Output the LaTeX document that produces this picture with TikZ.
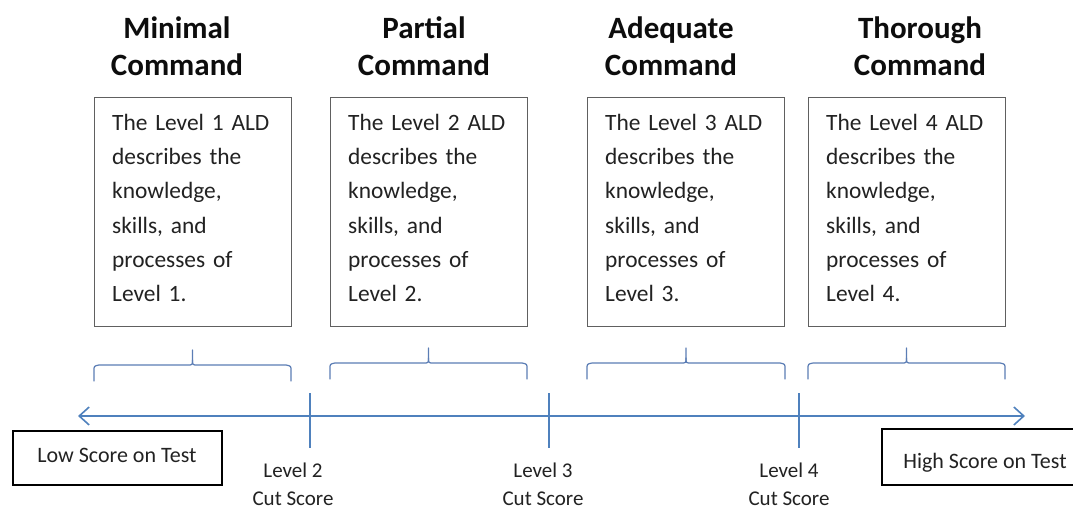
\documentclass[tikz,border=0pt]{standalone}
\usepackage{fontspec}
\setmainfont{Carlito}
\usetikzlibrary{arrows.meta}
\definecolor{axisblue}{HTML}{4F81BD}
\definecolor{bracecol}{HTML}{5B7DB5}
\definecolor{bodygray}{HTML}{222222}
\definecolor{boxgray}{HTML}{606060}
\tikzset{
  titletext/.style={font=\fontsize{31}{37}\selectfont\bfseries, text=black!95, align=center, inner sep=0pt, anchor=north},
  aldbox/.style={draw=boxgray, line width=1.3pt, minimum width=197pt, minimum height=229pt, inner sep=0pt, anchor=north west},
  aldtext/.style={font=\fontsize{23.4}{34.3}\selectfont, text=bodygray, align=left, inner sep=0pt, anchor=north west, text width=180pt},
  bracepath/.style={draw=bracecol, line width=1.2pt, line cap=round, line join=round},
  axisline/.style={draw=axisblue, line width=1.8pt},
  tickline/.style={draw=axisblue, line width=1.8pt},
  scorebox/.style={draw=black, line width=1.8pt, inner sep=0pt},
  scoretext/.style={font=\fontsize{22}{26}\selectfont, text=bodygray, inner sep=0pt, anchor=base},
  cuttext/.style={font=\fontsize{21}{28}\selectfont, text=bodygray, align=center, inner sep=0pt, anchor=north},
}
\begin{document}
\begin{tikzpicture}[x=1pt,y=-1pt]
\useasboundingbox[fill=white] (0,0) rectangle (1073,510);

% titles
\node[titletext] (t1) at (177,12) {\rule{0pt}{26pt}Minimal\\Command};
\node[titletext] (t2) at (424,12) {\rule{0pt}{26pt}Partial\\Command};
\node[titletext] (t3) at (671,12) {\rule{0pt}{26pt}Adequate\\Command};
\node[titletext] (t4) at (920,12) {\rule{0pt}{26pt}Thorough\\Command};

% ALD boxes
\node[aldbox] (b1) at (94,97) {};
\node[aldbox] (b2) at (330,97) {};
\node[aldbox] (b3) at (587,97) {};
\node[aldbox] (b4) at (808,97) {};

\node[aldtext] (d1) at (112,110) {\rule{0pt}{20pt}The Level 1 ALD\\describes the\\knowledge,\\skills, and\\processes of\\Level 1.};
\node[aldtext] (d2) at (348,110) {\rule{0pt}{20pt}The Level 2 ALD\\describes the\\knowledge,\\skills, and\\processes of\\Level 2.};
\node[aldtext] (d3) at (605,110) {\rule{0pt}{20pt}The Level 3 ALD\\describes the\\knowledge,\\skills, and\\processes of\\Level 3.};
\node[aldtext] (d4) at (826,110) {\rule{0pt}{20pt}The Level 4 ALD\\describes the\\knowledge,\\skills, and\\processes of\\Level 4.};

% braces
\foreach \l/\r/\y in {94/291/365, 330/527/363, 587/785/363, 808/1005/363}{
  \pgfmathsetmacro{\m}{(\l+\r)/2}
  \draw[bracepath] (\l,\y+16) -- (\l,\y+6) .. controls (\l,\y+1) .. (\l+5,\y)
     -- (\m-5,\y) .. controls (\m,\y) .. (\m,\y-5) -- (\m,\y-15);
  \draw[bracepath] (\m,\y-5) .. controls (\m,\y) .. (\m+5,\y)
     -- (\r-5,\y) .. controls (\r,\y+1) .. (\r,\y+6) -- (\r,\y+16);
}

% axis
\coordinate (aleft) at (78,416);
\coordinate (aright) at (1025,416);
\draw[axisline, {Straight Barb[length=10pt,width=18pt,line width=1.6pt]}-{Straight Barb[length=10pt,width=18pt,line width=1.6pt]}] (aleft) -- (aright);

% cut ticks
\coordinate (c2t) at (310,393); \coordinate (c2b) at (310,448);
\coordinate (c3t) at (549,393); \coordinate (c3b) at (549,448);
\coordinate (c4t) at (799,393); \coordinate (c4b) at (799,448);
\draw[tickline] (c2t) -- (c2b);
\draw[tickline] (c3t) -- (c3b);
\draw[tickline] (c4t) -- (c4b);

% cut labels
\node[cuttext] (l2) at (293,460) {\rule{0pt}{17pt}Level 2\\Cut Score};
\node[cuttext] (l3) at (543,460) {\rule{0pt}{17pt}Level 3\\Cut Score};
\node[cuttext] (l4) at (789,460) {\rule{0pt}{17pt}Level 4\\Cut Score};

% score boxes
\node[scorebox, minimum width=209pt, minimum height=54pt] (lowbox) at (117.5,458) {};
\node[scoretext] (lowtxt) at (117,462) {Low Score on Test};
\node[scorebox, minimum width=206pt, minimum height=56pt] (highbox) at (985,457) {};
\node[scoretext] (hightxt) at (985,468) {High Score on Test};
\end{tikzpicture}
\end{document}
